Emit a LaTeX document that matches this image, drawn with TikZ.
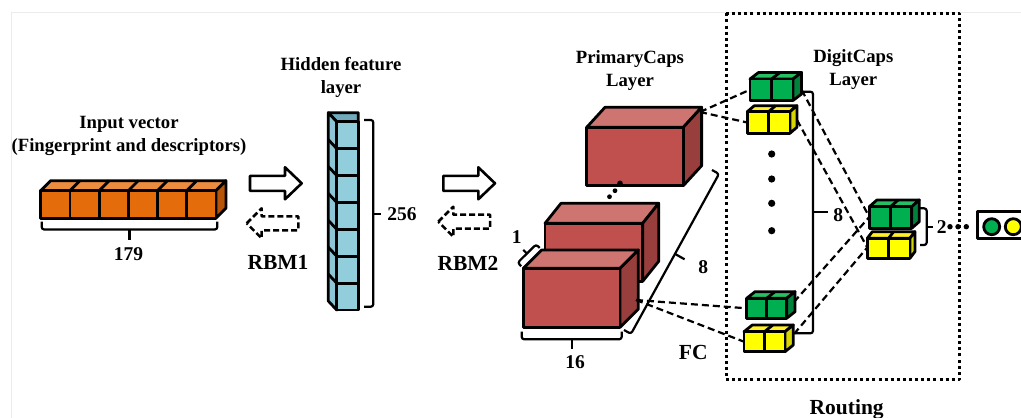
\documentclass[tikz,border=0pt]{standalone}
\usepackage{fontspec}
\setmainfont{Liberation Serif}
\definecolor{orfront}{RGB}{228,108,10}
\definecolor{ortop}{RGB}{236,140,62}
\definecolor{orside}{RGB}{184,84,8}
\definecolor{hidfront}{RGB}{146,205,220}
\definecolor{hidtop}{RGB}{112,170,188}
\definecolor{hidside}{RGB}{140,198,214}
\definecolor{rdfront}{RGB}{192,80,77}
\definecolor{rdtop}{RGB}{206,116,113}
\definecolor{rdside}{RGB}{152,62,60}
\definecolor{gnfront}{RGB}{0,176,80}
\definecolor{gntop}{RGB}{40,190,100}
\definecolor{gnside}{RGB}{0,130,60}
\definecolor{ywfront}{RGB}{255,255,0}
\definecolor{ywtop}{RGB}{255,240,40}
\definecolor{ywside}{RGB}{215,215,0}
\newcommand{\cuberow}[8]{%
  \pgfmathsetmacro\cW{#3*#5}%
  \pgfmathtruncatemacro\nm{#5-1}%
  \filldraw[cubeline,fill=#8top] (#1,#2) -- ++(#6,#7) -- ++(\cW,0) -- ({#1+\cW},#2) -- cycle;
  \filldraw[cubeline,fill=#8side] ({#1+\cW},#2) -- ++(#6,#7) -- ++(0,#4) -- ({#1+\cW},{#2+#4}) -- cycle;
  \foreach \k in {1,...,#5}{\filldraw[cubeline,fill=#8front] ({#1+(\k-1)*#3},#2) rectangle ++(#3,#4);}
  \ifnum\nm>0 \foreach \k in {1,...,\nm}{\draw[cubeline] ({#1+\k*#3},#2) -- ++(#6,#7);}\fi
}
\begin{document}
\begin{tikzpicture}[x=1pt,y=-1pt,line join=round,
  lbl/.style={font=\bfseries\fontsize{18.7}{23}\selectfont, align=center, inner sep=0pt},
  big/.style={font=\bfseries\fontsize{21.5}{24}\selectfont, inner sep=0pt},
  num/.style={font=\bfseries\fontsize{19.5}{22}\selectfont, inner sep=0pt},
  cubeline/.style={line width=2.8pt},
  conn/.style={line width=2.2pt, dash pattern=on 7pt off 4pt},
  brk/.style={line width=2.2pt, rounded corners=2.5pt},
  hollow/.style={line width=2.6pt, fill=white},
  dhollow/.style={line width=2.5pt, dash pattern=on 6pt off 3pt}]
\clip (0,0) rectangle (1021,418);
\fill[white] (0,0) rectangle (1021,418);
\draw[black!8, line width=1pt] (11.7,418) -- (11.7,12.3) -- (1021,12.3);

% ---------- input vector ----------
\node[lbl] (inT) at (129,135.5) {Input vector\\(Fingerprint and descriptors)};
\cuberow{40.7}{190.7}{29.2}{27.6}{6}{10}{-10}{or}
\draw[brk] (41.7,221.7) -- (41.7,229.5) -- (217.3,229.5) -- (217.3,221.7);
\draw[brk] (129.5,229.5) -- (129.5,239.5);
\node[num] (n179) at (128.5,254) {179};

% ---------- RBM1 ----------
\begin{scope}[shift={(250,183.3)}]
\draw[hollow] (0,-7.5) -- (35,-7.5) -- (35,-16) -- (51.7,0) -- (35,16) -- (35,7.5) -- (0,7.5) -- cycle;
\end{scope}
\begin{scope}[shift={(246.7,223.3)}]
\draw[dhollow] (0,0) -- (15,-15) -- (15,-7) -- (51.6,-7) -- (51.6,7) -- (15,7) -- (15,15) -- cycle;
\end{scope}
\node[big] (rbm1) at (278,262) {RBM1};

% ---------- hidden layer ----------
\node[lbl] (hidT) at (341,77) {Hidden feature\\layer};
\filldraw[cubeline,fill=hidtop] (328.3,112.7) -- (358.3,112.7) -- (358.3,121.7) -- (336.7,121.7) -- cycle;
\filldraw[cubeline,fill=hidside] (328.3,112.7) -- (336.7,121.7) -- (336.7,310) -- (328.3,301) -- cycle;
\foreach \k in {1,...,6}{\draw[cubeline] (328.3,{112.7+\k*26.9}) -- (336.7,{121.7+\k*26.9});}
\foreach \k in {1,...,7}{\filldraw[cubeline,fill=hidfront] (336.7,{121.7+(\k-1)*26.9}) rectangle ++(21.6,26.9);}
\draw[brk] (364,120) -- (373.3,120) -- (373.3,306.7) -- (364,306.7);
\draw[brk] (373.3,214) -- (380.5,214);
\node[num] (n256) at (402,214) {256};

% ---------- RBM2 ----------
\begin{scope}[shift={(443.3,183.3)}]
\draw[hollow] (0,-7.5) -- (35,-7.5) -- (35,-16) -- (51.7,0) -- (35,16) -- (35,7.5) -- (0,7.5) -- cycle;
\end{scope}
\begin{scope}[shift={(438.3,221.7)}]
\draw[dhollow] (0,0) -- (15,-15) -- (15,-7) -- (51.7,-7) -- (51.7,7) -- (15,7) -- (15,15) -- cycle;
\end{scope}
\node[big] (rbm2) at (468,263) {RBM2};

% ---------- PrimaryCaps ----------
\node[lbl] (pcT) at (630,71) {PrimaryCaps\\Layer};
\cuberow{586.7}{127.3}{96.6}{58.4}{1}{18.3}{-20}{rd}
\fill (620,183.3) circle (2.8) (615,190.7) circle (2.4) (609.5,196.7) circle (2.4);
\cuberow{545}{223.3}{97.7}{58}{1}{16}{-20}{rd}
\cuberow{523.3}{268.3}{96.7}{59}{1}{18.3}{-18.3}{rd}
% bracket 1
\draw[brk] (521.2,266.2) -- (517.7,262.7) -- (536.1,244.4) -- (539.6,247.9);
\draw[brk] (526.9,253.5) -- (523.2,249.8);
\node[num] (n1) at (516.7,237) {1};
% bracket 16
\draw[brk] (521.7,331.7) -- (521.7,339.3) -- (621.7,339.3) -- (621.7,331.7);
\draw[brk] (571.7,339.3) -- (571.7,349);
\node[num] (n16) at (575,362) {16};
% bracket 8 diagonal
\draw[brk] (624,330) -- (631,333.9) -- (719,173.9) -- (712,170);
\draw[brk] (675,253.9) -- (684.6,259.3);
\node[num] (n8a) at (703.3,266.7) {8};
\node[big] (fc) at (693.3,352) {FC};

% ---------- routing box ----------
\draw[line width=3pt, dash pattern=on 3pt off 3.1pt] (726,13.3) rectangle (959.3,379.3);
\node[lbl] (dcT) at (853.3,69.5) {DigitCaps\\Layer};
\node[big] (rout) at (846.7,409) {Routing};

% connection points
\coordinate (pcTop) at (700,112);
\coordinate (pcFr) at (636,300);
\coordinate (dgL) at (750,89.7);
\coordinate (dyL) at (747.3,122.5);
\coordinate (bgL) at (746.7,308.3);
\coordinate (byL) at (744,341.7);
\coordinate (dgR) at (801.7,90);
\coordinate (dyR) at (797,120);
\coordinate (bgR) at (794,302);
\coordinate (byR) at (794,334);
\coordinate (ogL) at (869.3,217);
\coordinate (oyL) at (867.3,247.5);

\draw[conn] (pcTop) -- (dgL);
\draw[conn] (pcTop) -- (dyL);
\draw[conn] (pcFr) -- (bgL);
\draw[conn] (pcFr) -- (byL);
\draw[conn] (dgR) -- (ogL);
\draw[conn] (dyR) -- (oyL);
\draw[conn] (bgR) -- (ogL);
\draw[conn] (byR) -- (oyL);

% capsules
\cuberow{750}{79}{21.5}{21.5}{2}{8.5}{-6.5}{gn}
\cuberow{747.3}{111.7}{21.3}{21.6}{2}{7}{-6}{yw}
\cuberow{746.7}{298.3}{20}{20}{2}{8.3}{-6.6}{gn}
\cuberow{744}{331.7}{20.5}{20}{2}{8.3}{-6.7}{yw}
\fill (771.7,154) circle (3.6) (771.7,179) circle (3.6) (771.7,203.3) circle (3.6) (771.7,230.7) circle (3.6);
\draw[brk] (801.7,91.7) -- (813,91.7) -- (813,333.3) -- (795,333.3);
\draw[brk] (813,212) -- (828,212);
\node[num] (n8b) at (838.3,215) {8};

\cuberow{869.3}{206.7}{21.2}{21.6}{2}{7.6}{-6.7}{gn}
\cuberow{867.3}{238.3}{21.3}{20}{2}{5}{-6.6}{yw}
\draw[brk] (920,208.3) -- (926.7,208.3) -- (926.7,245) -- (920,245);
\draw[brk] (926.7,226.7) -- (932.7,226.7);
\node[num] (n2) at (941.7,226.7) {2};
\fill (950,226.7) circle (2.7) (958,226.7) circle (2.7) (966.3,226.7) circle (2.7);

% output
\draw[cubeline] (977.7,211.7) rectangle (1045,238.3);
\filldraw[cubeline,fill=gnfront] (991.7,226.7) circle (8);
\filldraw[cubeline,fill=ywfront] (1013.3,226.7) circle (8);
\end{tikzpicture}
\end{document}
